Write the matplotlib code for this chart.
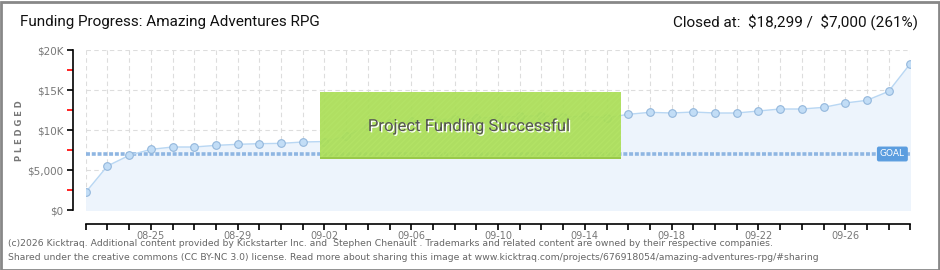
import numpy as np
import matplotlib
matplotlib.use('Agg')
import matplotlib.pyplot as plt
import matplotlib.patheffects as pe
from matplotlib.patches import Rectangle
from matplotlib.ticker import FixedLocator

# daily pledged totals, 08-22 .. 09-29
dates = ['08-22', '08-23', '08-24', '08-25', '08-26', '08-27', '08-28', '08-29',
         '08-30', '08-31', '09-01', '09-02', '09-03', '09-04', '09-05', '09-06',
         '09-07', '09-08', '09-09', '09-10', '09-11', '09-12', '09-13', '09-14',
         '09-15', '09-16', '09-17', '09-18', '09-19', '09-20', '09-21', '09-22',
         '09-23', '09-24', '09-25', '09-26', '09-27', '09-28', '09-29']
pledged = [2210, 5500, 6830, 7580, 7875, 7875, 8080, 8210,
           8290, 8330, 8500, 8560, 9210, 10500, 10900, 11100,
           11250, 11400, 11500, 11600, 11700, 11780, 11580, 11750,
           11520, 11960, 12210, 12125, 12250, 12125, 12125, 12375,
           12625, 12625, 12830, 13375, 13710, 14830, 18299]
goal = 7000
y_ticks = [0, 5000, 10000, 15000, 20000]
y_labels = ['$0', '$5,000', '$10K', '$15K', '$20K']
label_every = 4
first_label = 3

W, H = 940, 270
fig = plt.figure(figsize=(W / 100, H / 100), dpi=100)
fig.patch.set_facecolor('white')

ax = fig.add_axes([85.7 / W, 60 / H, 824.6 / W, 160 / H])
x = np.arange(len(dates))

ax.fill_between(x, pledged, 0, color='#edf4fc', zorder=1)
ax.plot(x, pledged, color='#b9d7f3', lw=1, zorder=3)
ax.plot(x, pledged, 'o', ms=5.5, mfc='#c2ddf6', mec='#93b7dc', mew=0.8, zorder=4)
ax.plot([x[0], x[-1]], [goal, goal], color='#8fb6e2', lw=2.6,
        linestyle=(0, (1.1, 0.5)), zorder=2)

ax.set_xlim(0, len(dates) - 1)
ax.set_ylim(0, 20000)

ax.grid(True, which='major', color='#dddddd', linestyle=(0, (4, 3)), lw=0.8)
ax.set_axisbelow(True)

for s in ['top', 'right']:
    ax.spines[s].set_visible(False)
ax.spines['left'].set_position(('outward', 9))
ax.spines['bottom'].set_position(('outward', 10))
ax.spines['left'].set_linewidth(1.2)
ax.spines['bottom'].set_linewidth(1.2)

ax.set_xticks(x)
ax.set_xticklabels([d if i >= first_label and (i - first_label) % label_every == 0 else ''
                    for i, d in enumerate(dates)])
ax.tick_params(axis='x', direction='out', length=4, width=1.2, color='black',
               labelsize=7, labelcolor='#777777', pad=1)

ax.set_yticks(y_ticks)
ax.set_yticklabels(y_labels)
ax.yaxis.set_minor_locator(FixedLocator([2500, 7500, 12500, 17500]))
ax.tick_params(axis='y', which='major', direction='out', length=4, width=1.2,
               color='black', labelsize=7.5, labelcolor='#777777', pad=3)
ax.tick_params(axis='y', which='minor', direction='out', length=4, width=1.2,
               color='#ff0000')

# goal tag
ax.text(len(dates) - 1.25, goal, 'GOAL', ha='right', va='center', fontsize=6.5,
        color='white', zorder=6,
        bbox=dict(boxstyle='round,pad=0.25,rounding_size=0.15', fc='#5b9ddf',
                  ec='#5b9ddf'))

# success banner
fig.add_artist(Rectangle((320 / W, 1 - 158 / H), 301 / W, 66 / H,
                         transform=fig.transFigure, facecolor='#a9dd55',
                         edgecolor='#b3e366', hatch='//////', lw=0, alpha=0.92,
                         zorder=10))
fig.add_artist(Rectangle((320 / W, 1 - 158.5 / H), 301 / W, 1.5 / H,
                         transform=fig.transFigure, facecolor='#99c94a',
                         lw=0, zorder=10))
fig.text(468.5 / W, 1 - 126 / H, 'Project Funding Successful', ha='center',
         va='center', fontsize=12, color='#555555', family='Roboto', zorder=11,
         path_effects=[pe.withSimplePatchShadow(offset=(1, -1),
                                                shadow_rgbFace='white', alpha=1)])

fig.text(20 / W, 1 - 131 / H, 'P L E D G E D', rotation=90, ha='center',
         va='center', fontsize=6, color='#777777', fontweight='bold')

# header
fig.text(20 / W, 1 - 22 / H, 'Funding Progress: Amazing Adventures RPG',
         ha='left', va='center', fontsize=11, color='#111111', family='Roboto')
fig.text(918 / W, 1 - 22 / H, 'Closed at:  \\$18,299 /  \\$7,000 (261%)',
         ha='right', va='center', fontsize=11, color='#111111', family='Roboto')

# footer
fig.text(8 / W, 1 - 244 / H,
         '(c)2026 Kicktraq. Additional content provided by Kickstarter Inc. and  '
         'Stephen Chenault . Trademarks and related content are owned by their '
         'respective companies.', ha='left', va='center', fontsize=6.65,
         color='#666666')
fig.text(8 / W, 1 - 257 / H,
         'Shared under the creative commons (CC BY-NC 3.0) license. Read more about '
         'sharing this image at www.kicktraq.com/projects/676918054/'
         'amazing-adventures-rpg/#sharing', ha='left', va='center', fontsize=6.65,
         color='#666666')

# outer border
fig.add_artist(Rectangle((0.5 / W, 0.5 / H), (W - 2) / W, (H - 2) / H,
                         transform=fig.transFigure, fill=False,
                         edgecolor='#888888', lw=2, zorder=20))

fig.savefig('out.png', dpi=100)
